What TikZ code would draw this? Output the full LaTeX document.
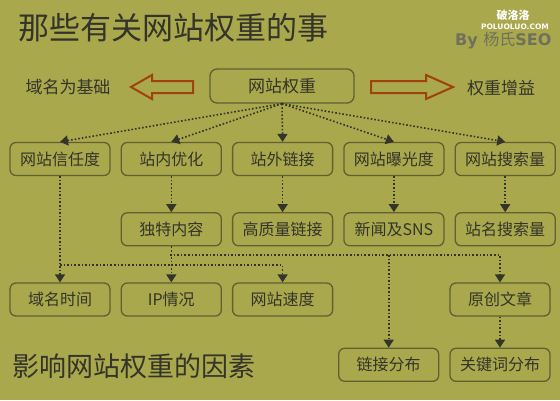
\documentclass[tikz,border=0pt]{standalone}
\usepackage{fontspec}
\setmainfont{Noto Sans CJK SC}
\newfontfamily\markfont{DejaVu Sans}
\usetikzlibrary{positioning, arrows.meta}
\definecolor{bgolive}{RGB}{170,168,76}
\definecolor{boxline}{RGB}{96,96,50}
\definecolor{inkgray}{RGB}{52,52,42}
\definecolor{rust}{RGB}{160,66,14}
\definecolor{markgray}{RGB}{112,112,92}

\begin{document}
\begin{tikzpicture}[x=1pt, y=-1pt,
    factor/.style={draw=boxline, line width=1.3pt, rounded corners=6pt, minimum width=100pt, minimum height=33pt, inner sep=0pt, text=inkgray, font=\fontsize{16}{16}\selectfont},
    link/.style={draw=inkgray, line width=1.6pt, dotted, -{Triangle[width=10pt,length=8pt]}},
    fatarrow/.style={draw=rust, line width=2pt, line join=miter},
    label/.style={text=inkgray, inner sep=0pt}]
			\useasboundingbox (0,0) rectangle (560,400);
			\fill[bgolive] (0,0) rectangle (560,400);
			\node (title) [label, anchor=west, font=\fontsize{31}{31}\selectfont] at (18,28) {那些有关网站权重的事};
			\node (byline) [anchor=west, inner sep=0pt, text=markgray, font=\markfont\bfseries\fontsize{16}{16}\selectfont] at (455,41) {By \normalfont\fontsize{16}{16}\selectfont 杨氏\markfont\bfseries SEO};
			\node (logo) [inner sep=0pt, text=white, font=\bfseries\fontsize{11}{11}\selectfont] at (513,15) {破洛洛};
			\node (logourl) [inner sep=0pt, text=white, font=\markfont\bfseries\fontsize{7.5}{7.5}\selectfont] at (515,27) {POLUOLUO.COM};
			\node (weight) [factor, minimum width=144pt, minimum height=34pt, rounded corners=7pt, font=\fontsize{17}{17}\selectfont] at (282,86) {网站权重};
			\node (basis) [label, font=\fontsize{17}{17}\selectfont] at (68,87) {域名为基础};
			\node (gain) [label, font=\fontsize{17}{17}\selectfont] at (501,88) {权重增益};
			\draw [fatarrow] (131,87) -- (152,75) -- (152,81) -- (193,81) -- (193,93) -- (152,93) -- (152,99) -- cycle;
			\draw [fatarrow] (453,87) -- (426,75) -- (426,81) -- (371,81) -- (371,93) -- (426,93) -- (426,99) -- cycle;
			\node (trust) [factor] at (60,159) {网站信任度};
			\node (onsite) [factor, right=10pt of trust] {站内优化};
			\node (offsite) [factor, right=10pt of onsite] {站外链接};
			\node (exposure) [factor, right=10pt of offsite] {网站曝光度};
			\node (search) [factor, right=10pt of exposure] {网站搜索量};
			\node (unique) [factor, below=36pt of onsite] {独特内容};
			\node (quality) [factor, right=10pt of unique] {高质量链接};
			\node (news) [factor, right=10pt of quality] {新闻及SNS};
			\node (brand) [factor, right=10pt of news] {站名搜索量};
			\node (age) [factor] at (60,299.5) {域名时间};
			\node (ip) [factor, right=10pt of age] {IP情况};
			\node (speed) [factor, right=10pt of ip] {网站速度};
			\node (original) [factor] at (500,299.5) {原创文章};
			\node (keyword) [factor, below=31pt of original] {关键词分布};
			\node (spread) [factor, left=10pt of keyword] {链接分布};
			\node (factors) [label, anchor=west, font=\fontsize{27}{27}\selectfont] at (12,366) {影响网站权重的因素};
			\coordinate (lowbus) at (60,265);
			\coordinate (highbus) at (170,255);
			\foreach \n in {trust, onsite, offsite, exposure, search}
				\draw [link] (weight.south) -- (\n.north);
			\draw [link] (onsite) -- (unique);
			\draw [link] (offsite) -- (quality);
			\draw [link] (exposure) -- (news);
			\draw [link] (search) -- (brand);
			\draw [link] (trust) -- (age);
			\draw [link] (lowbus) -| (speed.north);
			\draw [link] (unique) -- (ip);
			\draw [link] (highbus) -| (original.north);
			\draw [link] (highbus -| spread.north) -- (spread.north);
			\draw [link] (original) -- (keyword);
		\end{tikzpicture}
\end{document}
